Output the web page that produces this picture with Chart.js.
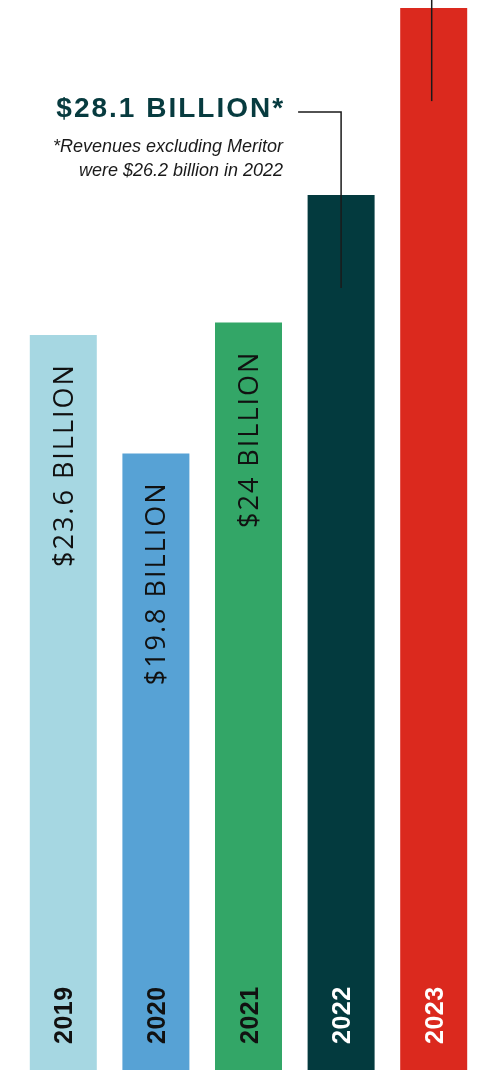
<!DOCTYPE html>
<html>
<head>
<meta charset="utf-8">
<script src="https://cdn.jsdelivr.net/npm/chart.js@4.4.1/dist/chart.umd.min.js"></script>
<style>
  html, body { margin: 0; padding: 0; background: #ffffff; }
  #wrap { width: 481px; height: 1070px; position: relative; }
</style>
</head>
<body>
<div id="wrap"><canvas id="graficoIngresos"></canvas></div>
<script>
// Datos
const years = ['2019', '2020', '2021', '2022', '2023'];
const revenue = [23.6, 19.8, 24, 28.1, 34.1];
const valueLabels = ['$23.6 BILLION', '$19.8 BILLION', '$24 BILLION', '', ''];
const barColors = ['#a6d7e2', '#57a2d5', '#33a667', '#033a3e', '#db291e'];
const yearColors = ['#111111', '#111111', '#111111', '#ffffff', '#ffffff'];
const calloutTitle = '$28.1 BILLION*';
const calloutNote = ['*Revenues excluding Meritor', 'were $26.2 billion in 2022'];
const calloutIndex = 3;
const leaderIndexes = [3, 4];

// Etiquetas dentro de las barras + nota de 2022
const etiquetas = {
  id: 'etiquetas',
  afterDatasetsDraw(chart) {
    const ctx = chart.ctx;
    const bars = chart.getDatasetMeta(0).data;

    bars.forEach((bar, i) => {
      // valor, girado
      if (valueLabels[i]) {
        ctx.save();
        ctx.translate(bar.x, bar.y + 28);
        ctx.rotate(-Math.PI / 2);
        ctx.font = "400 27px 'Open Sans'";
        ctx.letterSpacing = '2px';
        ctx.fillStyle = '#111111';
        ctx.textAlign = 'right';
        ctx.textBaseline = 'alphabetic';
        ctx.fillText(valueLabels[i], 0, 9.5);
        ctx.restore();
      }
      // año
      ctx.save();
      ctx.translate(bar.x, bar.base - 26);
      ctx.rotate(-Math.PI / 2);
      ctx.font = "bold 25px 'Liberation Sans'";
      ctx.letterSpacing = '0.5px';
      ctx.fillStyle = yearColors[i];
      ctx.textAlign = 'left';
      ctx.textBaseline = 'alphabetic';
      ctx.fillText(years[i], 0, 9);
      ctx.restore();
    });

    // líneas guía
    ctx.save();
    ctx.strokeStyle = '#1a1a1a';
    ctx.lineWidth = 1.5;
    leaderIndexes.forEach(i => {
      const bar = bars[i];
      ctx.beginPath();
      if (i === calloutIndex) {
        ctx.moveTo(bar.x - 43, bar.y - 83);
        ctx.lineTo(bar.x, bar.y - 83);
      } else {
        ctx.moveTo(bar.x - 2, chart.chartArea.top);
      }
      ctx.lineTo(i === calloutIndex ? bar.x : bar.x - 2, bar.y + 93);
      ctx.stroke();
    });
    ctx.restore();

    // texto de la nota
    const b = bars[calloutIndex];
    const right = b.x - 58;
    ctx.save();
    ctx.textAlign = 'right';
    ctx.textBaseline = 'alphabetic';
    ctx.fillStyle = '#073b3f';
    ctx.font = "bold 28px 'Liberation Sans'";
    ctx.letterSpacing = '2px';
    ctx.fillText(calloutTitle, right + 2, b.y - 78);
    ctx.fillStyle = '#1a1a1a';
    ctx.font = "italic 18px 'Liberation Sans'";
    ctx.letterSpacing = '0px';
    calloutNote.forEach((line, k) => {
      ctx.fillText(line, right, b.y - 43 + k * 24);
    });
    ctx.restore();
  }
};

new Chart(document.getElementById('graficoIngresos'), {
  type: 'bar',
  data: {
    labels: years,
    datasets: [{
      data: revenue,
      backgroundColor: barColors,
      borderWidth: 0,
      categoryPercentage: 1,
      barPercentage: 0.7235
    }]
  },
  options: {
    responsive: true,
    maintainAspectRatio: false,
    animation: false,
    layout: { padding: { left: 17, right: 1, top: 0, bottom: 0 } },
    scales: {
      x: { display: false },
      y: { display: false, min: 0, max: 34.36 }
    },
    plugins: {
      legend: { display: false },
      tooltip: { enabled: false }
    }
  },
  plugins: [etiquetas]
});
</script>
</body>
</html>
